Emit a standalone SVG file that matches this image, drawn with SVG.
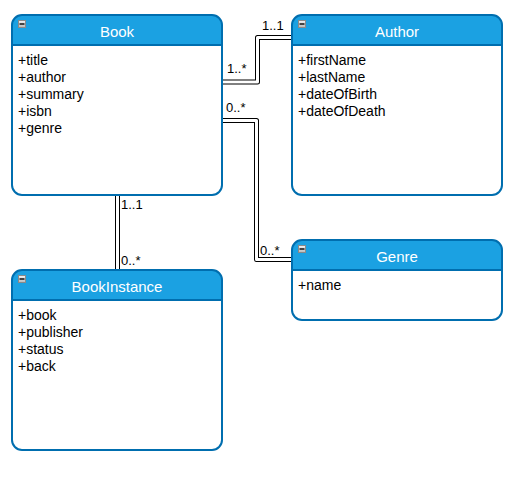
<svg xmlns="http://www.w3.org/2000/svg" width="517" height="477" viewBox="0 0 517 477">
<style>
.title{font-family:"Liberation Sans",Arial,sans-serif;font-size:15px;fill:#ffffff;text-anchor:middle}
.attr{font-family:"Liberation Sans",Arial,sans-serif;font-size:14px;fill:#000000}
.lbl{font-family:"Liberation Sans",Arial,sans-serif;font-size:13px;fill:#000000}
.body{fill:#ffffff;stroke:none}
.hdr{fill:#1ba1e2;stroke:none}
.outline{fill:none;stroke:#006eaf;stroke-width:2}
.div{stroke:#006eaf;stroke-width:2}
.lo{fill:none;stroke:#000000;stroke-width:5;stroke-linejoin:round}
.li{fill:none;stroke:#ffffff;stroke-width:3;stroke-linejoin:round}
.mbox{fill:url(#mg);stroke:#8a8a8a;stroke-width:1}
.mline{stroke:#111111;stroke-width:1.5}
</style>
<defs>
<linearGradient id="mg" x1="0" y1="0" x2="0" y2="1">
<stop offset="0" stop-color="#f4f4f4"/>
<stop offset="1" stop-color="#b8b8b8"/>
</linearGradient>
</defs>
<rect width="517" height="477" fill="#ffffff"/>
<g id="connectors">
<path class="lo" d="M222,82 H257.5 V37.5 H292"/>
<path class="li" d="M222,82 H257.5 V37.5 H292"/>
<path class="lo" d="M222,120.5 H256.5 V259.5 H292"/>
<path class="li" d="M222,120.5 H256.5 V259.5 H292"/>
<path class="lo" d="M117.5,195 V270"/>
<path class="li" d="M117.5,195 V270"/>
<text class="lbl" x="227" y="73">1..*</text>
<text class="lbl" x="262" y="30">1..1</text>
<text class="lbl" x="226" y="111.5">0..*</text>
<text class="lbl" x="121" y="209">1..1</text>
<text class="lbl" x="121" y="264.5">0..*</text>
<text class="lbl" x="260" y="254.5">0..*</text>
</g>
<g id="Book">
<rect class="body" x="12" y="15" width="210" height="180" rx="10"/>
<path class="hdr" d="M12,45 V25 A10,10 0 0 1 22,15 H212 A10,10 0 0 1 222,25 V45 Z"/>
<line class="div" x1="12" y1="45" x2="222" y2="45"/>
<rect class="outline" x="12" y="15" width="210" height="180" rx="10"/>
<rect class="mbox" x="18.5" y="20.5" width="7" height="7"/>
<line class="mline" x1="19.5" y1="24" x2="24.5" y2="24"/>
<text class="title" x="117" y="36.5">Book</text>
<text class="attr" x="18" y="65">+title</text>
<text class="attr" x="18" y="82">+author</text>
<text class="attr" x="18" y="99">+summary</text>
<text class="attr" x="18" y="116">+isbn</text>
<text class="attr" x="18" y="133">+genre</text>
</g>
<g id="Author">
<rect class="body" x="292" y="15" width="210" height="180" rx="10"/>
<path class="hdr" d="M292,45 V25 A10,10 0 0 1 302,15 H492 A10,10 0 0 1 502,25 V45 Z"/>
<line class="div" x1="292" y1="45" x2="502" y2="45"/>
<rect class="outline" x="292" y="15" width="210" height="180" rx="10"/>
<rect class="mbox" x="298.5" y="20.5" width="7" height="7"/>
<line class="mline" x1="299.5" y1="24" x2="304.5" y2="24"/>
<text class="title" x="397" y="36.5">Author</text>
<text class="attr" x="298" y="65">+firstName</text>
<text class="attr" x="298" y="82">+lastName</text>
<text class="attr" x="298" y="99">+dateOfBirth</text>
<text class="attr" x="298" y="116">+dateOfDeath</text>
</g>
<g id="BookInstance">
<rect class="body" x="12" y="270" width="210" height="180" rx="10"/>
<path class="hdr" d="M12,300 V280 A10,10 0 0 1 22,270 H212 A10,10 0 0 1 222,280 V300 Z"/>
<line class="div" x1="12" y1="300" x2="222" y2="300"/>
<rect class="outline" x="12" y="270" width="210" height="180" rx="10"/>
<rect class="mbox" x="18.5" y="275.5" width="7" height="7"/>
<line class="mline" x1="19.5" y1="279" x2="24.5" y2="279"/>
<text class="title" x="117" y="291.5">BookInstance</text>
<text class="attr" x="18" y="320">+book</text>
<text class="attr" x="18" y="337">+publisher</text>
<text class="attr" x="18" y="354">+status</text>
<text class="attr" x="18" y="371">+back</text>
</g>
<g id="Genre">
<rect class="body" x="292" y="240" width="210" height="80" rx="10"/>
<path class="hdr" d="M292,270 V250 A10,10 0 0 1 302,240 H492 A10,10 0 0 1 502,250 V270 Z"/>
<line class="div" x1="292" y1="270" x2="502" y2="270"/>
<rect class="outline" x="292" y="240" width="210" height="80" rx="10"/>
<rect class="mbox" x="298.5" y="245.5" width="7" height="7"/>
<line class="mline" x1="299.5" y1="249" x2="304.5" y2="249"/>
<text class="title" x="397" y="261.5">Genre</text>
<text class="attr" x="298" y="290">+name</text>
</g>
</svg>
